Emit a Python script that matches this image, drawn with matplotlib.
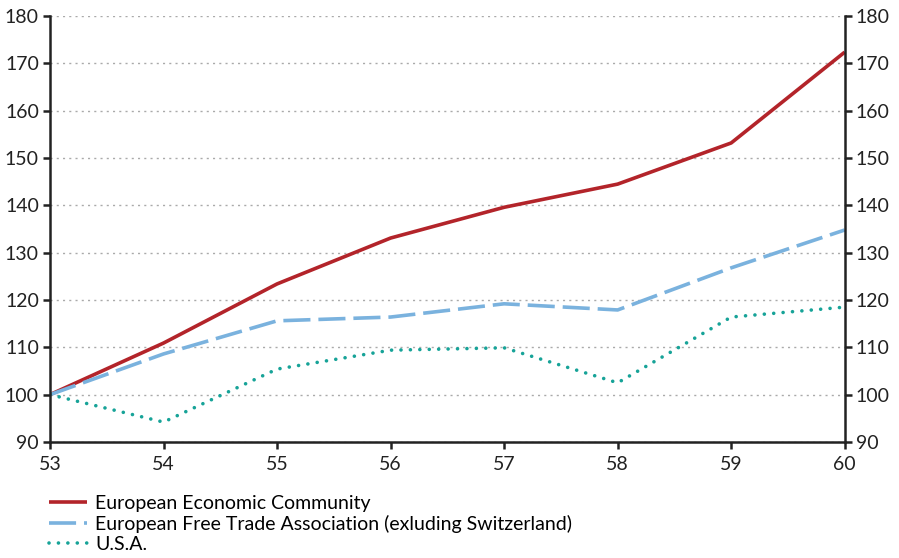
import matplotlib.pyplot as plt

plt.rcParams['font.family'] = ['Lato', 'DejaVu Sans']

# datos
anios = [53, 54, 55, 56, 57, 58, 59, 60]
eec = [100, 110.9, 123.4, 133.1, 139.6, 144.5, 153.2, 172.4]
efta = [100, 108.6, 115.6, 116.4, 119.2, 117.9, 126.8, 134.8]
usa = [100, 94.2, 105.4, 109.4, 109.9, 102.5, 116.4, 118.5]

etiquetas = ['European Economic Community',
             'European Free Trade Association (exluding Switzerland)',
             'U.S.A.']

fig = plt.figure(figsize=(8.99, 5.58), dpi=100)
ax = fig.add_axes([0.0556, 0.208, 0.884, 0.763])

ax.plot(anios, eec, color='#B3242A', lw=2.6, solid_capstyle='butt', label=etiquetas[0])
ax.plot(anios, efta, color='#7AB2DE', lw=2.6, dashes=(7.5, 2.2), label=etiquetas[1])
ax.plot(anios, usa, color='#17A398', lw=2.6, dashes=(0.01, 2.6), dash_capstyle='round', label=etiquetas[2])

ax.set_xlim(53, 60)
ax.set_ylim(90, 180)
ax.set_yticks(range(90, 181, 10))
ax.set_xticks(anios)

ax.grid(axis='y', color='#aaaaaa', linestyle=(0, (1.5, 3)), lw=1)
ax.set_axisbelow(True)

ax.spines['top'].set_visible(False)
for s in ['left', 'right', 'bottom']:
    ax.spines[s].set_linewidth(1.8)
    ax.spines[s].set_color('#222222')

ax.tick_params(axis='both', direction='out', length=5, width=1.8, color='#222222',
               labelsize=14, labelcolor='#222222')
ax.tick_params(axis='y', right=True, labelright=True, pad=3)
ax.tick_params(axis='x', pad=5)

fig.legend(loc='upper left', bbox_to_anchor=(0.054, 0.113), frameon=False,
           fontsize=14, handlelength=2.0, handletextpad=0.4, labelspacing=0.16,
           borderaxespad=0, borderpad=0)

plt.savefig('out.png', dpi=100)
